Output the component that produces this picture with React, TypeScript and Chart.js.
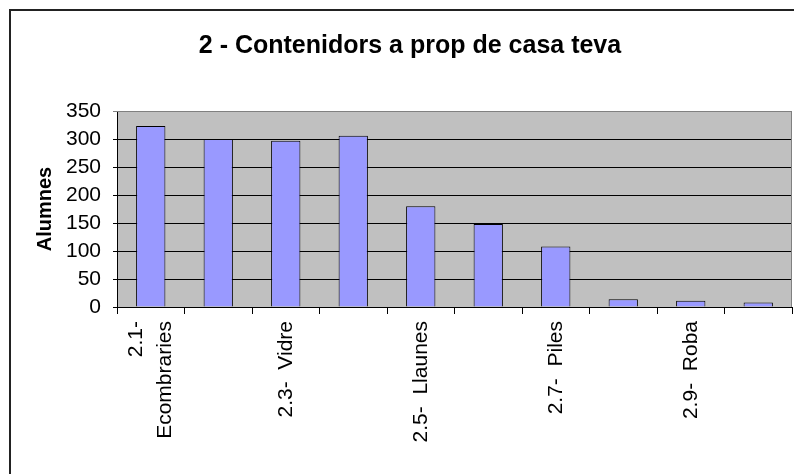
import React, { useEffect, useRef } from "react";
import { Chart, registerables } from "chart.js";

Chart.register(...registerables);

// Multi-line tick labels: a blank middle/first line keeps every label centred on its category
const categories: (string | string[])[] = [
  ["2.1-", "", "Ecombraries"],
  ["", "2.2-  Paper"],
  ["", "2.3-  Vidre"],
  ["", "2.4-  Envasos"],
  ["", "2.5-  Llaunes"],
  ["", "2.6-  Orgànica"],
  ["", "2.7-  Piles"],
  ["", "2.8-  Olis"],
  ["", "2.9-  Roba"],
  ["", "2.10-  Altres"],
];
const alumnes = [323, 300, 297, 306, 180, 148, 108, 14, 11, 8];
const yTicks = [0, 50, 100, 150, 200, 250, 300, 350];
const titleText = "2 - Contenidors a prop de casa teva";
const yTitle = "Alumnes";

const FONT = "Arial, 'Liberation Sans', sans-serif";

const framePlugin = {
  id: "frame",
  beforeDraw(chart: any) {
    const { ctx, chartArea } = chart;
    ctx.save();
    ctx.fillStyle = "#ffffff";
    ctx.fillRect(0, 0, chart.width, chart.height);
    ctx.strokeStyle = "#222222";
    ctx.lineWidth = 2;
    ctx.strokeRect(10, 10, chart.width + 40, chart.height + 40);
    ctx.fillStyle = "#C0C0C0";
    ctx.fillRect(
      chartArea.left,
      chartArea.top,
      chartArea.right - chartArea.left,
      chartArea.bottom - chartArea.top
    );
    ctx.fillStyle = "#000000";
    ctx.font = `bold 25px ${FONT}`;
    ctx.textAlign = "center";
    ctx.textBaseline = "alphabetic";
    ctx.fillText(titleText, 410, 53);
    ctx.restore();
  },
  afterDatasetsDraw(chart: any) {
    const { ctx, chartArea } = chart;
    ctx.save();
    ctx.strokeStyle = "#808080";
    ctx.lineWidth = 1;
    ctx.beginPath();
    ctx.moveTo(chartArea.left, chartArea.top + 0.5);
    ctx.lineTo(chartArea.right - 0.5, chartArea.top + 0.5);
    ctx.lineTo(chartArea.right - 0.5, chartArea.bottom);
    ctx.stroke();
    ctx.restore();
  },
};

export default function App() {
  const ref = useRef<HTMLCanvasElement>(null);
  useEffect(() => {
    document.body.style.margin = "0";
    const chart = new Chart(ref.current!, {
      type: "bar",
      data: {
        labels: categories,
        datasets: [
          {
            label: yTitle,
            data: alumnes,
            backgroundColor: "#9999FF",
            borderColor: "#000000",
            borderWidth: 1,
            barPercentage: 0.434,
            categoryPercentage: 1,
          },
        ],
      },
      options: {
        animation: false,
        responsive: true,
        maintainAspectRatio: false,
        layout: { padding: { top: 111, right: 2, left: 0, bottom: 0 } },
        plugins: {
          legend: { display: false },
          title: { display: false },
          tooltip: { enabled: false },
        },
        scales: {
          x: {
            offset: true,
            afterFit(scale: any) {
              scale.height = 167;
            },
            grid: {
              display: true,
              drawOnChartArea: false,
              drawTicks: true,
              tickLength: 7,
              color: "#000000",
              offset: true,
            },
            border: { color: "#000000", width: 1 },
            ticks: {
              autoSkip: false,
              maxRotation: 90,
              minRotation: 90,
              padding: 7,
              labelOffset: -14.5,
              color: "#000000",
              font: { family: FONT, size: 21, lineHeight: 0.69 },
              callback(this: any, value: any, index: number) {
                return index % 2 === 0 ? this.getLabelForValue(value) : "";
              },
            },
          },
          y: {
            min: 0,
            max: 350,
            afterFit(scale: any) {
              scale.width = 117;
            },
            afterBuildTicks(scale: any) {
              scale.ticks = yTicks.map((v) => ({ value: v }));
            },
            grid: {
              color: (c: any) => (c.tick && c.tick.value === 350 ? "#808080" : "#000000"),
              tickLength: 4,
              lineWidth: 1,
            },
            border: { color: "#000000", width: 1 },
            title: {
              display: true,
              text: yTitle,
              color: "#000000",
              font: { family: FONT, size: 20, weight: "bold" },
              padding: { top: 33, bottom: 0 },
            },
            ticks: {
              autoSkip: false,
              stepSize: 50,
              color: "#000000",
              padding: 12,
              font: { family: FONT, size: 21 },
            },
          },
        },
      },
      plugins: [framePlugin],
    });
    return () => chart.destroy();
  }, []);
  return (
    <div style={{ width: 794, height: 474, position: "relative" }}>
      <canvas ref={ref} />
    </div>
  );
}
